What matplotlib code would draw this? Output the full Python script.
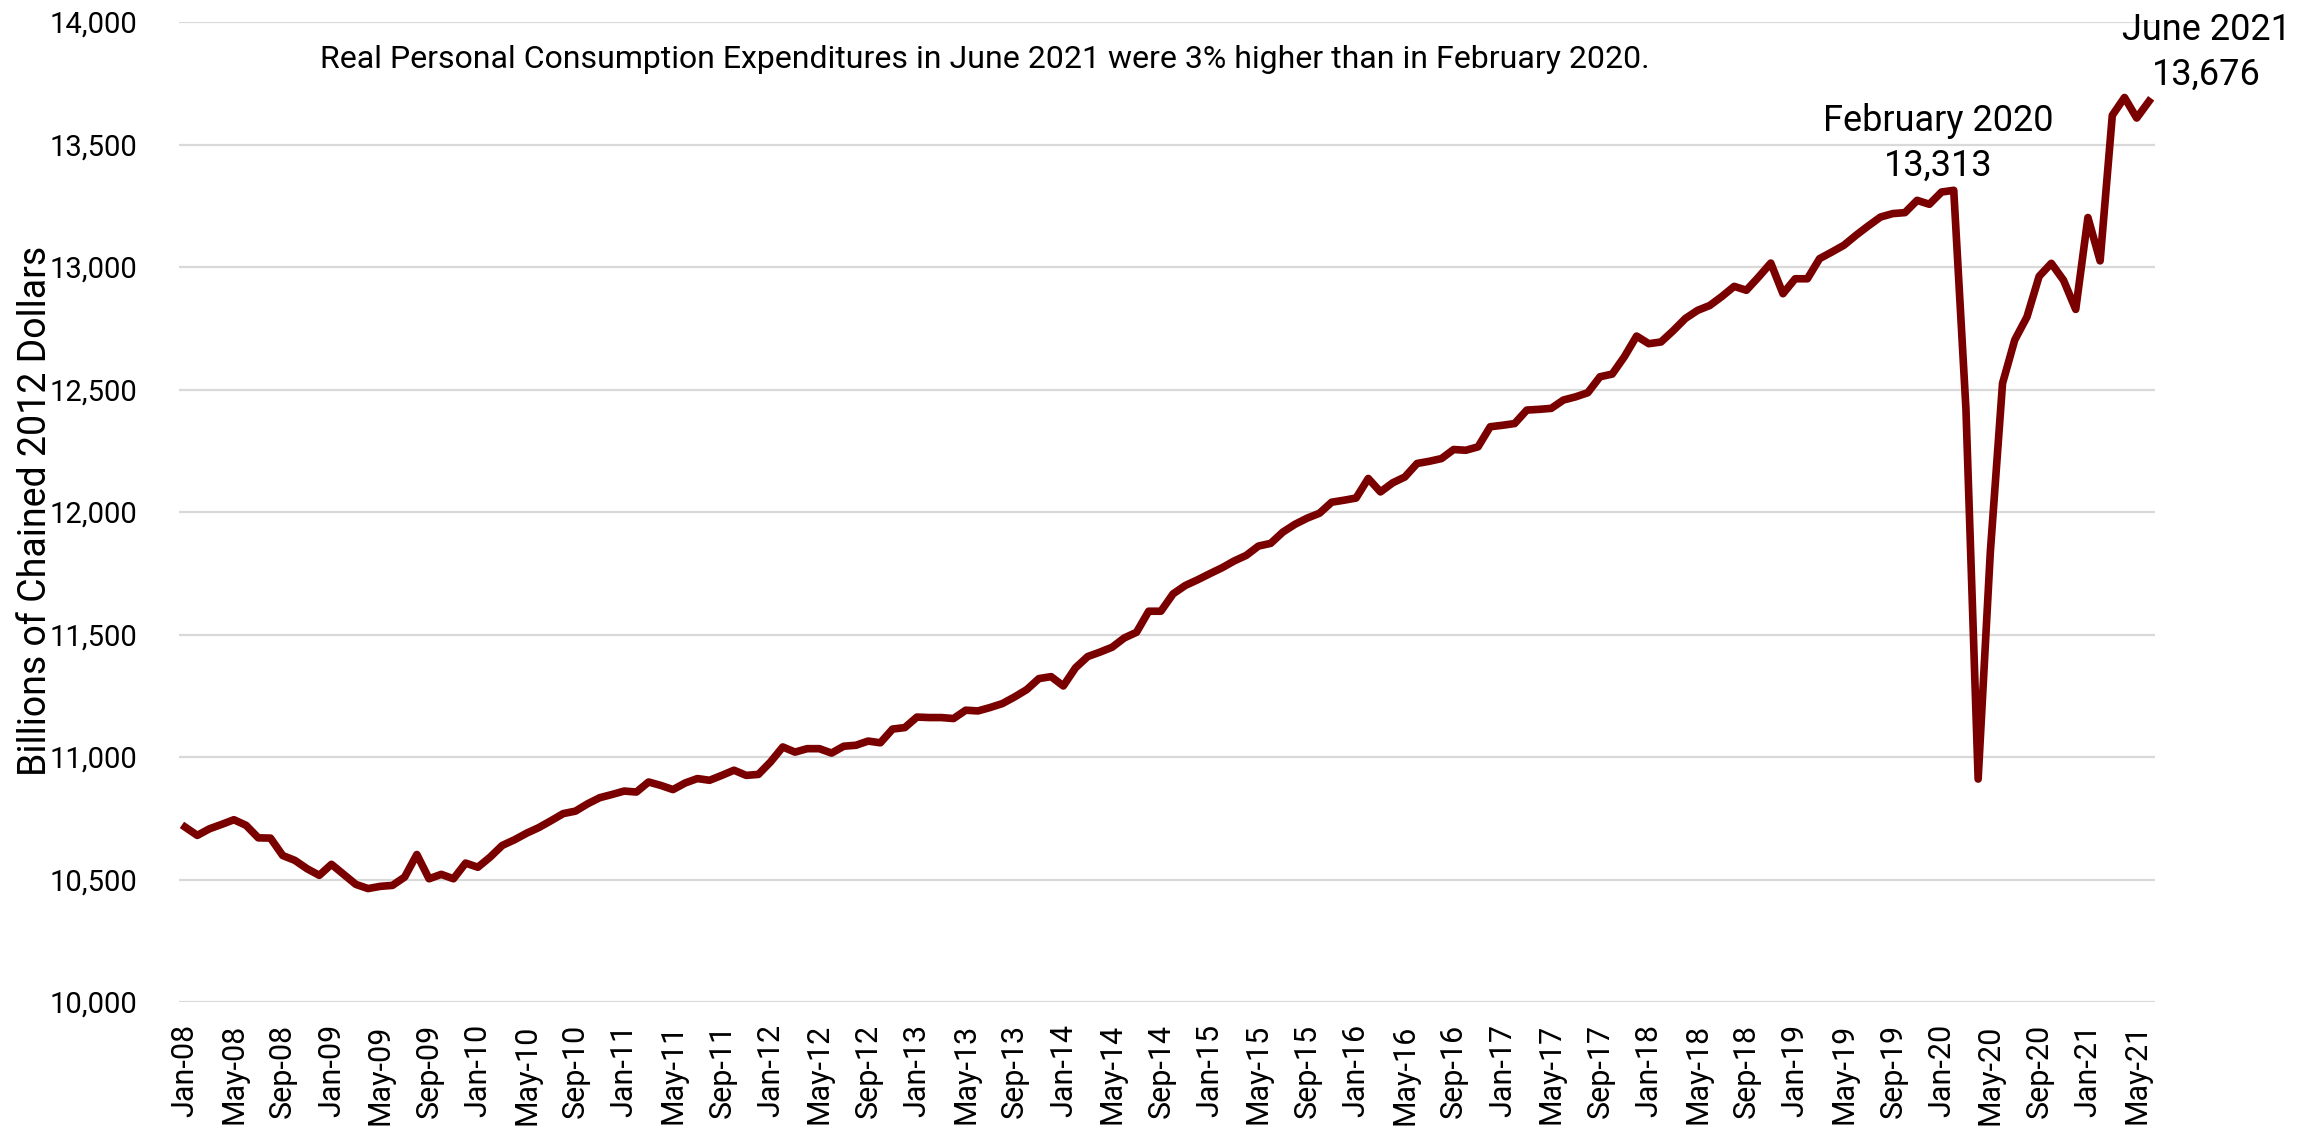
import pandas as pd
import matplotlib
matplotlib.use('Agg')
import matplotlib.pyplot as plt

# Real PCE, billions of chained 2012 dollars, monthly Jan-2008 .. Jun-2021
months = pd.date_range('2008-01-01', '2021-06-01', freq='MS')
month_labels = [d.strftime('%b-%y') for d in months]
pce = [
    10714, 10680, 10707, 10725, 10744, 10721, 10670, 10669, 10598, 10578, 10544, 10517,
    10562, 10521, 10480, 10463, 10472, 10476, 10510, 10602, 10503, 10521, 10503, 10567,
    10550, 10591, 10639, 10662, 10689, 10712, 10740, 10769, 10779, 10809, 10834, 10847,
    10861, 10857, 10898, 10884, 10867, 10894, 10912, 10905, 10925, 10946, 10925, 10929,
    10980, 11041, 11020, 11034, 11034, 11016, 11044, 11048, 11065, 11058, 11114, 11120,
    11163, 11161, 11161, 11157, 11191, 11188, 11202, 11218, 11245, 11275, 11320, 11328,
    11290, 11364, 11410, 11428, 11448, 11486, 11509, 11595, 11595, 11666, 11700, 11723,
    11748, 11772, 11800, 11823, 11861, 11872, 11918, 11950, 11975, 11995, 12040, 12048,
    12057, 12137, 12082, 12119, 12143, 12198, 12207, 12218, 12255, 12252, 12266, 12348,
    12354, 12361, 12416, 12419, 12423, 12457, 12470, 12487, 12552, 12563, 12634, 12718,
    12687, 12694, 12740, 12790, 12823, 12843, 12880, 12921, 12905, 12959, 13016, 12891,
    12952, 12952, 13034, 13061, 13089, 13130, 13168, 13204, 13218, 13222, 13272, 13256,
    13306, 13313, 12421, 10910, 11837, 12525, 12702, 12796, 12962, 13015, 12946, 12827,
    13202, 13025, 13619, 13692, 13608, 13676,
]
y_ticks = [10000, 10500, 11000, 11500, 12000, 12500, 13000, 13500, 14000]
note = 'Real Personal Consumption Expenditures in June 2021 were 3% higher than in February 2020.'

plt.rcParams['font.family'] = ['Roboto', 'DejaVu Sans']

fig = plt.figure(figsize=(23.15, 11.31), dpi=100)
ax = fig.add_axes([179/2315, 1-1002/1131, 1976/2315, 980/1131])

x = list(range(len(pce)))
ax.plot(x, pce, color='#7a0000', lw=5.5, solid_joinstyle='round', zorder=3)

ax.set_xlim(-0.5, len(pce) - 0.5)
ax.set_ylim(10000, 14000)
ax.set_yticks(y_ticks)
ax.set_yticklabels([f'{v:,}' for v in y_ticks], fontsize=21)
ax.set_xticks(x[::4])
ax.set_xticklabels(month_labels[::4], rotation=90, fontsize=22)
ax.tick_params(length=0)
ax.tick_params(axis='y', pad=30)
ax.tick_params(axis='x', pad=16)
ax.grid(axis='y', color='#d9d9d9', lw=1.6)
ax.set_axisbelow(True)
for s in ax.spines.values():
    s.set_visible(False)

fig.text(36/2315, 1-511/1131, 'Billions of Chained 2012 Dollars', rotation=90,
         ha='center', va='center', fontsize=27)
fig.text(985/2315, 1-59/1131, note, ha='center', va='center', fontsize=23)

feb = 145
ax.annotate('February 2020', xy=(feb, pce[feb]), xytext=(-15, 69), textcoords='offset pixels',
            ha='center', va='center', fontsize=26)
ax.annotate(f'{pce[feb]:,}', xy=(feb, pce[feb]), xytext=(-15, 25), textcoords='offset pixels',
            ha='center', va='center', fontsize=26)
jun = len(pce) - 1
ax.annotate('June 2021', xy=(jun, pce[jun]), xytext=(58, 71), textcoords='offset pixels',
            ha='center', va='center', fontsize=26, annotation_clip=False)
ax.annotate(f'{pce[jun]:,}', xy=(jun, pce[jun]), xytext=(57, 27), textcoords='offset pixels',
            ha='center', va='center', fontsize=26, annotation_clip=False)

fig.savefig('out.png', dpi=100)
